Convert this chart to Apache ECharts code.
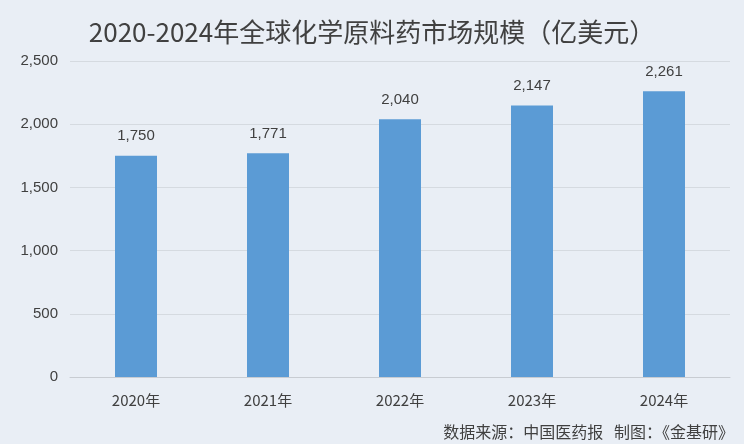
<!DOCTYPE html>
<html><head><meta charset="utf-8">
<script src="https://cdn.jsdelivr.net/npm/echarts@6/dist/echarts.min.js"></script>
<style>html,body{margin:0;padding:0;background:#e9eef5}#main{width:744px;height:444px}</style>
</head><body><div id="main"></div>
<script>
var years = ['2020年', '2021年', '2022年', '2023年', '2024年'];
var marketSize = [1750, 1771, 2040, 2147, 2261];

var myChart = echarts.init(document.getElementById('main'));
var font = '"Microsoft YaHei","Noto Sans CJK SC",sans-serif';
myChart.setOption({
    backgroundColor: '#e9eef5',
    title: {
        text: '2020-2024年全球化学原料药市场规模（亿美元）',
        left: 'center', top: 14,
        textStyle: {fontSize: 26, fontWeight: 'normal', color: '#404040', fontFamily: font}
    },
    graphic: [{
        type: 'text', right: 10, bottom: 4,
        style: {text: '数据来源：中国医药报   制图：《金基研》', fontSize: 16, fill: '#404040', fontFamily: font}
    }],
    grid: {left: 70, right: 14, top: 61, bottom: 67},
    xAxis: {
        type: 'category', data: years,
        axisLine: {lineStyle: {color: '#c8ccd2'}},
        axisTick: {show: false},
        axisLabel: {fontSize: 15, color: '#404040', margin: 16, fontFamily: font}
    },
    yAxis: {
        type: 'value', min: 0, max: 2500, interval: 500,
        axisLabel: {fontSize: 15, color: '#404040', margin: 12,
            formatter: function (v) { return v.toLocaleString('en-US'); }},
        splitLine: {lineStyle: {color: '#d5dae0'}}
    },
    series: [{
        type: 'bar', data: marketSize, barWidth: 42,
        itemStyle: {color: '#5b9bd5'},
        label: {show: true, position: 'top', distance: 12, fontSize: 15, color: '#404040',
            formatter: function (p) { return p.value.toLocaleString('en-US'); }}
    }]
});
</script></body></html>
